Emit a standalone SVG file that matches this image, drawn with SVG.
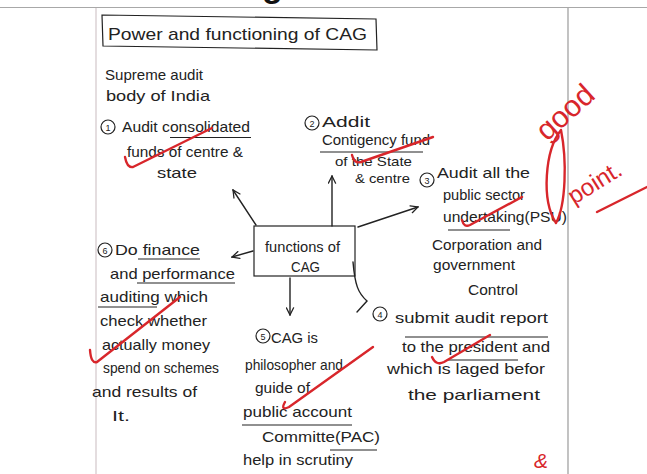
<svg xmlns="http://www.w3.org/2000/svg" width="647" height="474" viewBox="0 0 647 474">
  <defs>
    <style>
      .ink { font-family: "Liberation Sans", "DejaVu Sans", sans-serif; font-size: 15px; fill: #222; }
      .sm { font-size: 13.5px; }
      .title { font-family: "Liberation Sans", "DejaVu Sans", sans-serif; font-size: 17px; fill: #222; }
      .num { font-family: "Liberation Sans", sans-serif; font-size: 9px; fill: #222; text-anchor: middle; }
      .ring { fill: none; stroke: #222; stroke-width: 1.2; }
      .rule { stroke: #222; stroke-width: 1.2; fill: none; }
      .edge { stroke: #222; stroke-width: 1.4; fill: none; stroke-linecap: round; }
      .tick { stroke: #d8262b; stroke-width: 2.4; fill: none; stroke-linecap: round; stroke-linejoin: round; }
      .red { font-family: "Liberation Sans", "DejaVu Sans", sans-serif; fill: #d8262b; }
    </style>
    <marker id="head" viewBox="0 0 10 10" refX="9" refY="5" markerWidth="9" markerHeight="9" markerUnits="userSpaceOnUse" orient="auto">
      <path d="M1,1 L9,5 L1,9" fill="none" stroke="#222" stroke-width="1.4" stroke-linecap="round"/>
    </marker>
  </defs>

  <!-- sheet -->
  <rect width="647" height="474" fill="#ffffff"/>
  <text x="262" y="-3" font-family="Liberation Sans, sans-serif" font-weight="bold" font-size="34" fill="#111">g</text>
  <line x1="0" y1="7.5" x2="647" y2="7.5" stroke="#a8a8a8" stroke-width="1.2"/>
  <line x1="96" y1="8" x2="96" y2="474" stroke="#d9cfd2" stroke-width="1.4"/>
  <line x1="568" y1="8" x2="568" y2="474" stroke="#a9a9a9" stroke-width="1.4"/>

  <!-- heading -->
  <g id="title">
    <path d="M102,15 L376,19 L377,50 L103,46 Z" class="rule" stroke-width="1.5"/>
    <text class="title" x="108" y="40" textLength="259" lengthAdjust="spacingAndGlyphs">Power and functioning of CAG</text>
  </g>

  <g id="intro">
    <text class="ink" x="105" y="80" textLength="98" lengthAdjust="spacingAndGlyphs">Supreme audit</text>
    <text class="ink" x="106" y="101" textLength="104" lengthAdjust="spacingAndGlyphs">body of India</text>
  </g>

  <!-- centre node -->
  <g id="hub">
    <rect x="254" y="226" width="101" height="50" class="rule" stroke-width="1.5"/>
    <text class="ink" x="265" y="252" textLength="75" lengthAdjust="spacingAndGlyphs">functions of</text>
    <text class="ink" x="291" y="272" textLength="29" lengthAdjust="spacingAndGlyphs">CAG</text>
  </g>

  <g id="point1">
    <circle cx="108" cy="127" r="7" class="ring"/>
    <text class="num" x="108" y="130.5">1</text>
    <text class="ink" x="122" y="132" textLength="128" lengthAdjust="spacingAndGlyphs">Audit consolidated</text>
    <line x1="170" y1="137.5" x2="251" y2="137.5" class="rule"/>
    <text class="ink" x="127" y="157" textLength="116" lengthAdjust="spacingAndGlyphs">funds of centre &amp;</text>
    <text class="ink" x="157" y="178" textLength="40" lengthAdjust="spacingAndGlyphs">state</text>
    <path d="M125,157 Q127,168 133,167 L212,128" class="tick"/>
  </g>

  <g id="point2">
    <circle cx="312" cy="123" r="7" class="ring"/>
    <text class="num" x="312" y="126.5">2</text>
    <text class="ink" x="322" y="127" textLength="48" lengthAdjust="spacingAndGlyphs">Addit</text>
    <text class="ink" x="322" y="145" textLength="108" lengthAdjust="spacingAndGlyphs">Contigency fund</text>
    <line x1="320" y1="152" x2="423" y2="152" class="rule"/>
    <text class="ink sm" x="335" y="166" textLength="77" lengthAdjust="spacingAndGlyphs">of the State</text>
    <text class="ink sm" x="355" y="183" textLength="55" lengthAdjust="spacingAndGlyphs">&amp; centre</text>
    <path d="M352,155 Q354,164 361,162 L433,137" class="tick"/>
  </g>

  <g id="point3">
    <circle cx="427" cy="180" r="7" class="ring"/>
    <text class="num" x="427" y="183.5">3</text>
    <text class="ink" x="437" y="178" textLength="93" lengthAdjust="spacingAndGlyphs">Audit all the</text>
    <text class="ink" x="443" y="200" textLength="82" lengthAdjust="spacingAndGlyphs">public sector</text>
    <text class="ink" x="443" y="222" textLength="124" lengthAdjust="spacingAndGlyphs">undertaking(PSU)</text>
    <line x1="448" y1="230" x2="510" y2="230" class="rule"/>
    <text class="ink" x="432" y="250" textLength="110" lengthAdjust="spacingAndGlyphs">Corporation and</text>
    <text class="ink" x="433" y="270" textLength="82" lengthAdjust="spacingAndGlyphs">government</text>
    <text class="ink" x="468" y="295" textLength="50" lengthAdjust="spacingAndGlyphs">Control</text>
    <path d="M462,220 Q464,228 470,225 L522,197" class="tick"/>
  </g>

  <g id="point4">
    <circle cx="380" cy="314" r="7" class="ring"/>
    <text class="num" x="380" y="317.5">4</text>
    <text class="ink" x="395" y="323" textLength="153" lengthAdjust="spacingAndGlyphs">submit audit report</text>
    <line x1="405" y1="337" x2="548" y2="337" class="rule"/>
    <text class="ink" x="402" y="352" textLength="148" lengthAdjust="spacingAndGlyphs">to the president and</text>
    <line x1="447" y1="360" x2="518" y2="360" class="rule"/>
    <text class="ink" x="387" y="374" textLength="158" lengthAdjust="spacingAndGlyphs">which is laged befor</text>
    <text class="ink" x="408" y="400" textLength="132" lengthAdjust="spacingAndGlyphs">the parliament</text>
    <path d="M432,357 Q436,366 444,362 L490,335" class="tick"/>
  </g>

  <g id="point5">
    <circle cx="263" cy="336" r="7" class="ring"/>
    <text class="num" x="263" y="339.5">5</text>
    <text class="ink" x="271" y="343" textLength="47" lengthAdjust="spacingAndGlyphs">CAG is</text>
    <text class="ink" x="245" y="370" textLength="98" lengthAdjust="spacingAndGlyphs">philosopher and</text>
    <text class="ink" x="255" y="393" textLength="55" lengthAdjust="spacingAndGlyphs">guide of</text>
    <text class="ink" x="243" y="417" textLength="109" lengthAdjust="spacingAndGlyphs">public account</text>
    <line x1="242" y1="425" x2="352" y2="425" class="rule"/>
    <text class="ink" x="262" y="442" textLength="118" lengthAdjust="spacingAndGlyphs">Committe(PAC)</text>
    <line x1="330" y1="450" x2="377" y2="450" class="rule"/>
    <text class="ink" x="243" y="465" textLength="110" lengthAdjust="spacingAndGlyphs">help in scrutiny</text>
    <path d="M285,402 Q280,411 289,407 L373,347" class="tick"/>
  </g>

  <g id="point6">
    <circle cx="105" cy="250" r="7" class="ring"/>
    <text class="num" x="105" y="253.5">6</text>
    <text class="ink" x="115" y="255" textLength="85" lengthAdjust="spacingAndGlyphs">Do finance</text>
    <line x1="138" y1="259" x2="200" y2="259" class="rule"/>
    <text class="ink" x="110" y="279" textLength="125" lengthAdjust="spacingAndGlyphs">and performance</text>
    <line x1="137" y1="283" x2="235" y2="283" class="rule"/>
    <text class="ink" x="100" y="302" textLength="108" lengthAdjust="spacingAndGlyphs">auditing which</text>
    <line x1="98" y1="307" x2="157" y2="307" class="rule"/>
    <text class="ink" x="100" y="326" textLength="107" lengthAdjust="spacingAndGlyphs">check whether</text>
    <text class="ink" x="102" y="350" textLength="108" lengthAdjust="spacingAndGlyphs">actually money</text>
    <text class="ink" x="103" y="373" textLength="116" lengthAdjust="spacingAndGlyphs">spend on schemes</text>
    <text class="ink" x="92" y="397" textLength="105" lengthAdjust="spacingAndGlyphs">and results of</text>
    <text class="ink" x="112" y="421" textLength="18" lengthAdjust="spacingAndGlyphs">It.</text>
    <path d="M90,350 Q91,364 97,362 L180,297" class="tick"/>
  </g>

  <!-- connectors -->
  <g id="edges">
    <line x1="256" y1="225" x2="233" y2="190" class="edge" marker-end="url(#head)"/>
    <line x1="332" y1="226" x2="332" y2="176" class="edge" marker-end="url(#head)"/>
    <line x1="358" y1="227" x2="418" y2="207" class="edge" marker-end="url(#head)"/>
    <line x1="253" y1="251" x2="232" y2="257" class="edge" marker-end="url(#head)"/>
    <line x1="290" y1="278" x2="290" y2="315" class="edge" marker-end="url(#head)"/>
    <path d="M353,262 C355,285 358,293 367,301 L357,312" class="edge"/>
  </g>

  <!-- red remarks -->
  <g id="remark">
    <text class="red" x="547" y="142" font-size="30" transform="rotate(-42 547 142)">good</text>
    <path d="M561,130 C545,150 541,200 556,223 C566,205 567,160 561,130 Z" class="tick" stroke-width="2"/>
    <text class="red" x="574" y="205" font-size="24" transform="rotate(-32 574 205)">point.</text>
    <line x1="597" y1="212" x2="647" y2="187" class="tick" stroke-width="2"/>
    <text class="red" x="534" y="468" font-size="21" font-style="italic">&amp;</text>
  </g>
</svg>
